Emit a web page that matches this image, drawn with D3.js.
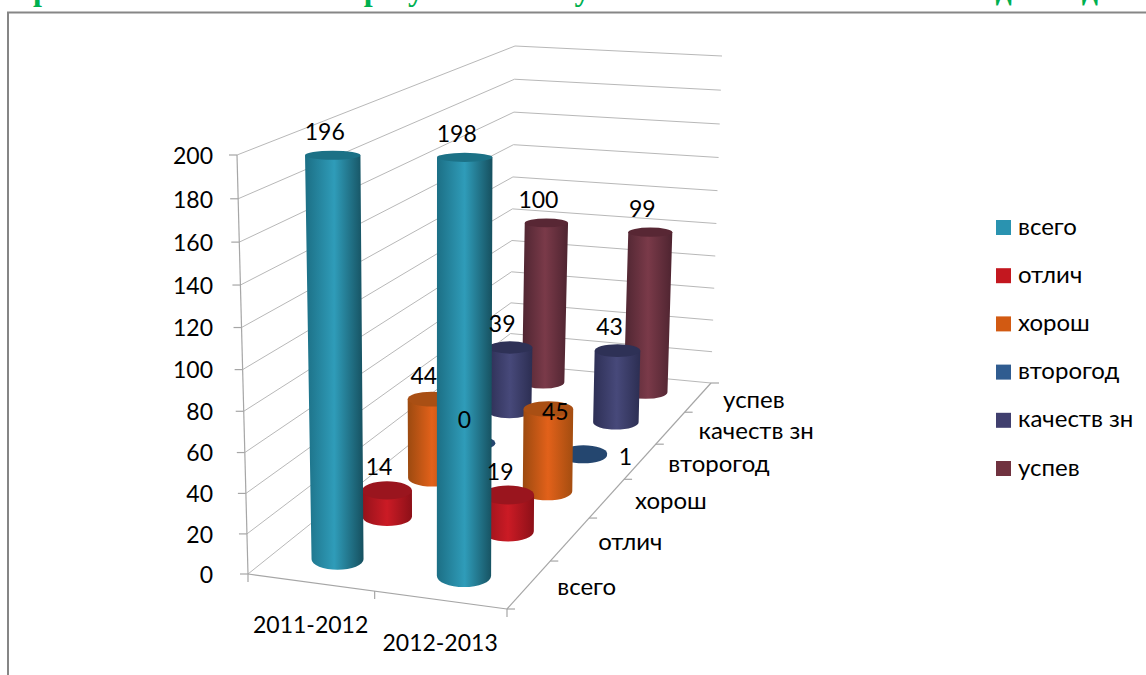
<!DOCTYPE html>
<html>
<head>
<meta charset="utf-8">
<script src="https://cdn.jsdelivr.net/npm/d3@7"></script>
<style>
  html, body { margin: 0; padding: 0; background: #fff; overflow: hidden; }
  text { font-family: Lato, "Noto Sans", sans-serif; fill: #000; }
  .page-title { font-family: "Liberation Serif", serif; font-weight: bold; fill: #00b050; }
</style>
</head>
<body>
<div id="chart"></div>
<script>
const width = 1146;
const height = 675;

const categories = ["2011-2012", "2012-2013"];
const seriesNames = ["всего", "отлич", "хорош", "второгод", "качеств зн", "успев"];
const seriesValues = [
  [196, 198],
  [14, 19],
  [44, 45],
  [0, 1],
  [39, 43],
  [100, 99],
];
const valueTicks = [0, 20, 40, 60, 80, 100, 120, 140, 160, 180, 200];

const legendColors = ["#2a93b0", "#c3171f", "#d25a12", "#305c90", "#403f6e", "#70323f"];
const sideColors = [
  ["#1c6f85", "#2f9cb9", "#16505f"],
  ["#94121b", "#cb1b25", "#8c1018"],
  ["#9c4a10", "#e2611a", "#a34d10"],
  ["#24466f", "#24466f", "#24466f"],
  ["#2d2f55", "#47497a", "#2c2e52"],
  ["#4e2531", "#7a3a49", "#4e2430"],
];
const lidColors = ["#1c7186", "#9a151e", "#a94f14", "#24466f", "#2e3156", "#582734"];

// box corners on screen, order: front-left, front-right, back-right, back-left
const floorQuad = [[248, 574], [507, 609], [711, 383], [510, 364]];
const roofQuad = [[237, 155], [508, 168], [722, 56], [515, 46]];

// unit square -> quad
function makeHomography(q) {
  const [[x0, y0], [x1, y1], [x2, y2], [x3, y3]] = q;
  const dx1 = x1 - x2, dx2 = x3 - x2, sx = x0 - x1 + x2 - x3;
  const dy1 = y1 - y2, dy2 = y3 - y2, sy = y0 - y1 + y2 - y3;
  const det = dx1 * dy2 - dx2 * dy1;
  const g = (sx * dy2 - dx2 * sy) / det;
  const h = (dx1 * sy - sx * dy1) / det;
  const a = x1 - x0 + g * x1, b = x3 - x0 + h * x3;
  const d = y1 - y0 + g * y1, e = y3 - y0 + h * y3;
  return (u, v) => {
    const w = g * u + h * v + 1;
    return [(a * u + b * v + x0) / w, (d * u + e * v + y0) / w];
  };
}

const floorAt = makeHomography(floorQuad);
const roofAt = makeHomography(roofQuad);

const zScale = d3.scaleLinear().domain([0, 200]).range([0, 1]);
const uScale = d3.scaleBand().domain(categories).range([0, 1]);
const vScale = d3.scaleBand().domain(seriesNames).range([0, 1]);

const zPerspective = 1.05;

function project(u, v, value) {
  const z = zScale(value);
  const t = z / (z + (1 - z) * zPerspective);
  const a = floorAt(u, v);
  const b = roofAt(u, v);
  return [a[0] + (b[0] - a[0]) * t, a[1] + (b[1] - a[1]) * t];
}

// local width of one unit along the u axis, gives the cylinder radius
function radiusAt(u, v, value) {
  const lo = Math.max(0, u - 0.1);
  const hi = Math.min(1, u + 0.1);
  const a = project(lo, v, value);
  const b = project(hi, v, value);
  return 0.105 * Math.abs(b[0] - a[0]) / (hi - lo);
}

function squash(y) {
  return 0.16 + (y - 150) * 0.0006;
}

const svg = d3.select("#chart")
  .append("svg")
  .attr("width", width)
  .attr("height", height);

// title, cut off by the top of the picture
svg.append("text")
  .attr("class", "page-title")
  .attr("x", 10)
  .attr("y", 0)
  .style("font-size", "32px")
  .text("Сравнительный анализ результатов обучения и качества знаний за два года");

// frame
svg.append("path")
  .attr("d", "M8,676V12.5H1147")
  .attr("fill", "none")
  .attr("stroke", "#868686")
  .attr("stroke-width", 2);

const defs = svg.append("defs");
sideColors.forEach((stops, i) => {
  const grad = defs.append("linearGradient").attr("id", `side${i}`);
  grad.append("stop").attr("offset", "0%").attr("stop-color", stops[0]);
  grad.append("stop").attr("offset", "50%").attr("stop-color", stops[1]);
  grad.append("stop").attr("offset", "100%").attr("stop-color", stops[2]);
});

const gridColor = "#b8b8b8";
const axisColor = "#a6a6a6";
const line = d3.line();
const grid = svg.append("g").attr("fill", "none").attr("stroke", gridColor).attr("stroke-width", 1);

valueTicks.forEach(tick => {
  grid.append("path").attr("d", line([project(0, 0, tick), project(0, 1, tick), project(1, 1, tick)]));
});

const axes = svg.append("g").attr("fill", "none").attr("stroke", axisColor).attr("stroke-width", 1.2);
axes.append("path").attr("d", line([project(0, 0, 0), project(0, 0, 200)]));
axes.append("path").attr("d", line([project(0, 0, 0), project(1, 0, 0)]));
axes.append("path").attr("d", line([project(1, 0, 0), project(1, 1, 0)]));

// value axis
valueTicks.forEach(tick => {
  const [x, y] = project(0, 0, tick);
  axes.append("path").attr("d", line([[x - 8, y], [x, y]]));
  svg.append("text")
    .attr("x", 213)
    .attr("y", y + 3)
    .attr("text-anchor", "end")
    .attr("dominant-baseline", "middle")
    .style("font-size", "23px")
    .text(tick);
});

// category axis
[0, 0.5, 1].forEach(u => {
  const [x, y] = floorAt(u, 0);
  axes.append("path").attr("d", line([[x, y], [x, y + 8]]));
});
categories.forEach(cat => {
  const [x, y] = floorAt(uScale(cat) + uScale.bandwidth() / 2, 0);
  svg.append("text")
    .attr("x", x)
    .attr("y", y + 45)
    .attr("text-anchor", "middle")
    .attr("dominant-baseline", "middle")
    .style("font-size", "23px")
    .text(cat);
});

// depth axis
d3.range(seriesNames.length + 1).forEach(i => {
  const [x, y] = floorAt(1, i / seriesNames.length);
  axes.append("path").attr("d", line([[x, y], [x + 8, y]]));
});
seriesNames.forEach(name => {
  const [x, y] = floorAt(1, vScale(name) + vScale.bandwidth() / 2);
  svg.append("text")
    .attr("x", name === "успев" ? x + 25 : x + 28)
    .attr("y", y + 5)
    .attr("dominant-baseline", "middle")
    .style("font-size", "24px")
    .text(name);
});

// cylinders, back row first
const bars = svg.append("g");
const labelItems = [];

d3.range(seriesNames.length - 1, -1, -1).forEach(s => {
  categories.forEach((cat, c) => {
    const value = seriesValues[s][c];
    const u = uScale(cat) + uScale.bandwidth() / 2;
    const v = vScale(seriesNames[s]) + vScale.bandwidth() / 2;
    const base = project(u, v, 0);
    const top = project(u, v, value);
    const rb = radiusAt(u, v, 0);
    const rt = radiusAt(u, v, value);
    const ryb = rb * squash(base[1]);
    const ryt = rt * squash(top[1]);

    if (value > 0) {
      const body = `M${top[0] - rt},${top[1]}L${base[0] - rb},${base[1]}`
        + `A${rb},${ryb} 0 0 0 ${base[0] + rb},${base[1]}`
        + `L${top[0] + rt},${top[1]}Z`;
      bars.append("path").attr("d", body).attr("fill", `url(#side${s})`);
    }
    bars.append("ellipse")
      .attr("cx", top[0])
      .attr("cy", top[1])
      .attr("rx", rt)
      .attr("ry", ryt)
      .attr("fill", lidColors[s]);

    labelItems.push({ key: `${s}-${c}`, value, x: top[0], y: top[1] });
  });
});

// labels dragged away from their default place in the original
const labelNudge = { "2-1": [15, 26], "3-1": [50, 27] };

labelItems.forEach(d => {
  const [nx, ny] = labelNudge[d.key] || [0, 0];
  svg.append("text")
    .attr("x", d.x - 8 + nx)
    .attr("y", d.y - 21 + ny)
    .attr("text-anchor", "middle")
    .attr("dominant-baseline", "middle")
    .style("font-size", "23px")
    .text(d.value);
});

// legend
const legendY = d3.scalePoint().domain(seriesNames).range([227.5, 468.5]);
seriesNames.forEach((name, i) => {
  const y = legendY(name);
  svg.append("rect")
    .attr("x", 996)
    .attr("y", y - 7.5)
    .attr("width", 15)
    .attr("height", 15)
    .attr("fill", legendColors[i]);
  svg.append("text")
    .attr("x", 1018)
    .attr("y", y + 1)
    .attr("dominant-baseline", "middle")
    .style("font-size", "24px")
    .text(name);
});
</script>
</body>
</html>
